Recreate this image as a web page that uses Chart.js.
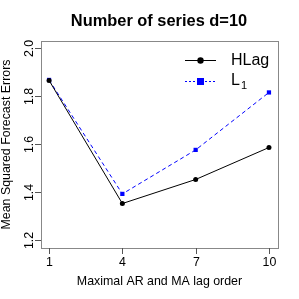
<!DOCTYPE html>
<html>
<head>
<meta charset="utf-8">
<script src="https://cdn.jsdelivr.net/npm/chart.js@4"></script>
<style>
  html, body { margin:0; padding:0; background:#fff; }
  #wrap { width:299px; height:299px; position:relative; }
</style>
</head>
<body>
<div id="wrap"><canvas id="c" width="299" height="299"></canvas></div>
<script>
// ── DATA ─────────────────────────────────────────────
const lagOrders = [1, 4, 7, 10];
const hlagMsfe  = [1.865, 1.353, 1.453, 1.586];
const l1Msfe    = [1.867, 1.393, 1.576, 1.815];
const yTicks    = [1.2, 1.4, 1.6, 1.8, 2.0];
const titleText = 'Number of series d=10';
const xTitle    = 'Maximal AR and MA lag order';
const yTitle    = 'Mean Squared Forecast Errors';

const FONT = '"Liberation Sans", Arial, sans-serif';

// R-style frame, ticks, labels, title and legend
const rStyle = {
  id: 'rStyle',
  afterDraw(chart) {
    const { ctx, chartArea: a, scales: { x, y } } = chart;
    ctx.save();
    // box
    ctx.strokeStyle = '#888';
    ctx.lineWidth = 1;
    ctx.strokeRect(Math.round(a.left) + 0.5, Math.round(a.top) + 0.5,
                   Math.round(a.right - a.left), Math.round(a.bottom - a.top));
    // x ticks
    ctx.strokeStyle = '#555';
    ctx.fillStyle = '#000';
    ctx.font = '12.4px ' + FONT;
    ctx.textAlign = 'center';
    ctx.textBaseline = 'middle';
    lagOrders.forEach(v => {
      const px = Math.round(x.getPixelForValue(v)) + 0.5;
      ctx.beginPath(); ctx.moveTo(px, a.bottom); ctx.lineTo(px, a.bottom + 6); ctx.stroke();
      ctx.fillText(String(v), px, a.bottom + 15);
    });
    // y ticks (rotated labels)
    yTicks.forEach(v => {
      const py = Math.round(y.getPixelForValue(v)) + 0.5;
      ctx.beginPath(); ctx.moveTo(a.left, py); ctx.lineTo(a.left - 6, py); ctx.stroke();
      ctx.save();
      ctx.translate(a.left - 11, py);
      ctx.rotate(-Math.PI / 2);
      ctx.fillText(v.toFixed(1), 0, 0);
      ctx.restore();
    });
    // axis titles
    ctx.font = '12.4px ' + FONT;
    ctx.fillText(xTitle, (a.left + a.right) / 2, 282);
    ctx.save();
    ctx.translate(7, (a.top + a.bottom) / 2);
    ctx.rotate(-Math.PI / 2);
    ctx.fillText(yTitle, 0, 0);
    ctx.restore();
    // title
    ctx.font = 'bold 16.4px ' + FONT;
    ctx.fillText(titleText, 159, 21);

    // legend
    ctx.textAlign = 'left';
    ctx.font = '16px ' + FONT;
    // HLag
    ctx.strokeStyle = '#000'; ctx.setLineDash([]);
    ctx.beginPath(); ctx.moveTo(185, 60.5); ctx.lineTo(216, 60.5); ctx.stroke();
    ctx.fillStyle = '#000';
    ctx.beginPath(); ctx.arc(200.5, 60.5, 3.2, 0, Math.PI * 2); ctx.fill();
    ctx.fillText('HLag', 231, 61);
    // L1
    ctx.strokeStyle = '#0000ff'; ctx.setLineDash([2, 2]);
    ctx.beginPath(); ctx.moveTo(185, 81.5); ctx.lineTo(216, 81.5); ctx.stroke();
    ctx.setLineDash([]);
    ctx.fillStyle = '#0000ff';
    ctx.fillRect(197, 78, 7, 7);
    ctx.fillStyle = '#000';
    ctx.fillText('L', 231, 81);
    ctx.font = '11px ' + FONT;
    ctx.fillText('1', 241, 86);
    ctx.restore();
  }
};

new Chart(document.getElementById('c'), {
  type: 'line',
  data: {
    datasets: [
      {
        label: 'HLag',
        data: lagOrders.map((v, i) => ({ x: v, y: hlagMsfe[i] })),
        borderColor: '#000', backgroundColor: '#000', borderWidth: 1,
        pointStyle: 'circle', pointRadius: 2.5, pointBorderWidth: 0,
        tension: 0
      },
      {
        label: 'L1',
        data: lagOrders.map((v, i) => ({ x: v, y: l1Msfe[i] })),
        borderColor: '#0000ff', backgroundColor: '#0000ff', borderWidth: 1,
        borderDash: [4, 3],
        pointStyle: 'rect', pointRadius: 3, pointBorderWidth: 0,
        tension: 0
      }
    ]
  },
  options: {
    responsive: false, animation: false, devicePixelRatio: 1,
    layout: { padding: { left: 0, right: 21, top: 41, bottom: 0 } },
    plugins: { legend: { display: false }, tooltip: { enabled: false }, title: { display: false } },
    scales: {
      x: {
        type: 'linear', min: 0.67, max: 10.37,
        grid: { display: false, drawTicks: false }, border: { display: false },
        ticks: { display: false },
        afterFit: s => { s.height = 51; }
      },
      y: {
        min: 1.168, max: 2.029,
        grid: { display: false, drawTicks: false }, border: { display: false },
        ticks: { display: false },
        afterFit: s => { s.width = 41; }
      }
    }
  },
  plugins: [rStyle]
});
</script>
</body>
</html>
